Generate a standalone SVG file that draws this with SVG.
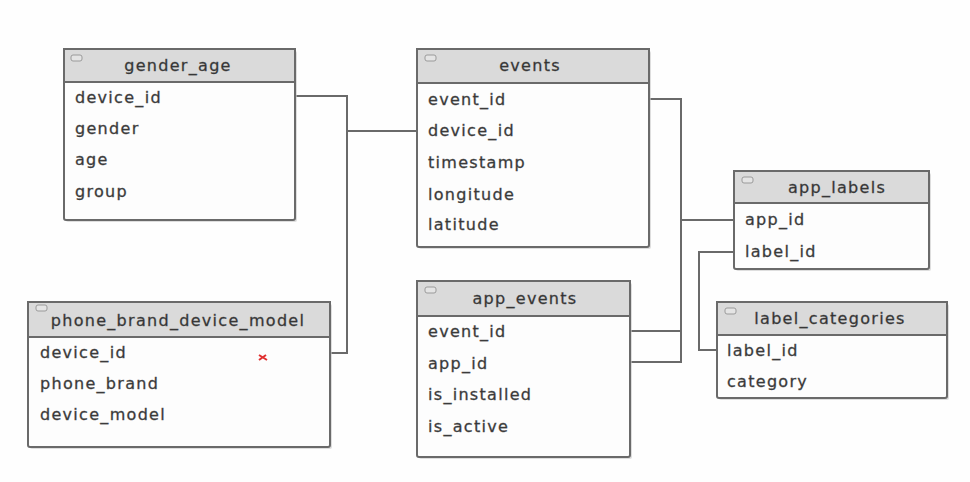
<svg xmlns="http://www.w3.org/2000/svg" width="970" height="482" viewBox="0 0 970 482">
<defs>
<style>
.box{fill:#fdfdfd;stroke:#6a6a6a;stroke-width:2}
.hdr{fill:#dadada;stroke:#6a6a6a;stroke-width:2}
.shadow{fill:#c8c8c8;opacity:0.6}
.icon{fill:#e4e4e4;stroke:#9a9a9a;stroke-width:1}
.t{font-family:"DejaVu Sans","Liberation Sans",sans-serif;font-size:16px;letter-spacing:1.3px;fill:#333;stroke:#555;stroke-width:0.35}
.h{font-family:"DejaVu Sans","Liberation Sans",sans-serif;font-size:16px;letter-spacing:1.3px;fill:#2e2e2e;stroke:#555;stroke-width:0.35;text-anchor:middle}
.c{fill:none;stroke:#6a6a6a;stroke-width:2}
</style>
</defs>
<rect width="970" height="482" fill="#fefefe"/>

<g id="connectors">
<polyline class="c" points="295,96 347,96 347,353 330,353"/>
<line class="c" x1="347" y1="131" x2="417" y2="131"/>
<polyline class="c" points="649,99 681,99 681,362 630,362"/>
<line class="c" x1="630" y1="331" x2="681" y2="331"/>
<line class="c" x1="681" y1="220" x2="734" y2="220"/>
<polyline class="c" points="734,252 699,252 699,350 717,350"/>
</g>

<g id="gender_age">
<rect class="shadow" x="66" y="51" width="231" height="171" rx="2"/>
<rect class="box" x="64" y="49" width="231" height="171" rx="2"/>
<rect class="hdr" x="64" y="49" width="231" height="33"/>
<rect class="icon" x="71" y="55" width="11" height="6" rx="2"/>
<text class="h" x="178" y="71">gender_age</text>
<text class="t" x="75" y="103">device_id</text>
<text class="t" x="75" y="134">gender</text>
<text class="t" x="75" y="165">age</text>
<text class="t" x="75" y="197">group</text>
</g>

<g id="phone_brand_device_model">
<rect class="shadow" x="30" y="304" width="302" height="145" rx="2"/>
<rect class="box" x="28" y="302" width="302" height="145" rx="2"/>
<rect class="hdr" x="28" y="302" width="302" height="35"/>
<rect class="icon" x="36" y="305" width="11" height="6" rx="2"/>
<text class="h" x="178" y="326">phone_brand_device_model</text>
<text class="t" x="40" y="358">device_id</text>
<text class="t" x="40" y="389">phone_brand</text>
<text class="t" x="40" y="420">device_model</text>
<path d="M259,355 L267,360 M259,360 L266,355" stroke="#e03030" stroke-width="2" fill="none"/>
</g>

<g id="events">
<rect class="shadow" x="419" y="51" width="232" height="198" rx="2"/>
<rect class="box" x="417" y="49" width="232" height="198" rx="2"/>
<rect class="hdr" x="417" y="49" width="232" height="34"/>
<rect class="icon" x="425" y="55" width="11" height="6" rx="2"/>
<text class="h" x="530" y="71">events</text>
<text class="t" x="428" y="105">event_id</text>
<text class="t" x="428" y="136">device_id</text>
<text class="t" x="428" y="168">timestamp</text>
<text class="t" x="428" y="200">longitude</text>
<text class="t" x="428" y="230">latitude</text>
</g>

<g id="app_events">
<rect class="shadow" x="419" y="283" width="213" height="176" rx="2"/>
<rect class="box" x="417" y="281" width="213" height="176" rx="2"/>
<rect class="hdr" x="417" y="281" width="213" height="35"/>
<rect class="icon" x="425" y="287" width="11" height="6" rx="2"/>
<text class="h" x="525" y="304">app_events</text>
<text class="t" x="428" y="337">event_id</text>
<text class="t" x="428" y="369">app_id</text>
<text class="t" x="428" y="400">is_installed</text>
<text class="t" x="428" y="432">is_active</text>
</g>

<g id="app_labels">
<rect class="shadow" x="736" y="173" width="195" height="98" rx="2"/>
<rect class="box" x="734" y="171" width="195" height="98" rx="2"/>
<rect class="hdr" x="734" y="171" width="195" height="32"/>
<rect class="icon" x="742" y="177" width="11" height="6" rx="2"/>
<text class="h" x="837" y="193">app_labels</text>
<text class="t" x="745" y="225">app_id</text>
<text class="t" x="745" y="257">label_id</text>
</g>

<g id="label_categories">
<rect class="shadow" x="719" y="304" width="230" height="96" rx="2"/>
<rect class="box" x="717" y="302" width="230" height="96" rx="2"/>
<rect class="hdr" x="717" y="302" width="230" height="33"/>
<rect class="icon" x="725" y="308" width="11" height="6" rx="2"/>
<text class="h" x="830" y="324">label_categories</text>
<text class="t" x="727" y="356">label_id</text>
<text class="t" x="727" y="387">category</text>
</g>
</svg>
